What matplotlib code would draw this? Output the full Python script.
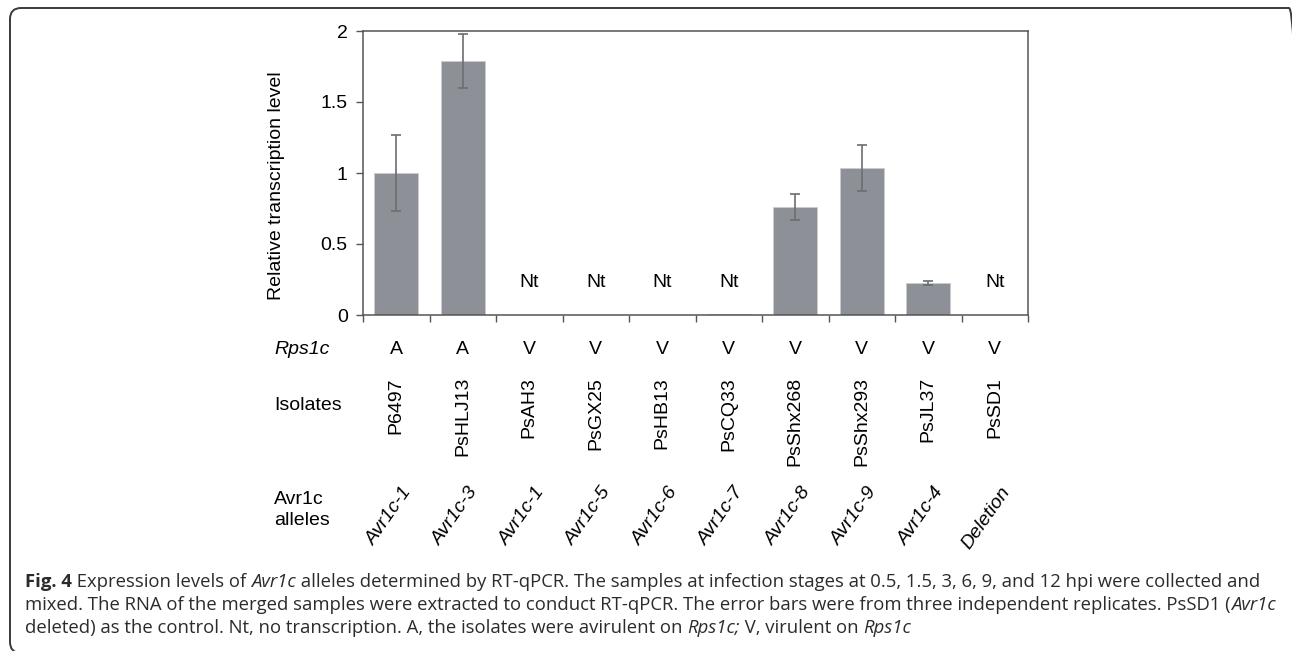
import matplotlib
matplotlib.use("Agg")
import matplotlib.pyplot as plt
import numpy as np
from matplotlib.transforms import blended_transform_factory
from matplotlib.patches import FancyBboxPatch

# ---- data ----
isolates = ['P6497', 'PsHLJ13', 'PsAH3', 'PsGX25', 'PsHB13', 'PsCQ33',
            'PsShx268', 'PsShx293', 'PsJL37', 'PsSD1']
rps1c = ['A', 'A', 'V', 'V', 'V', 'V', 'V', 'V', 'V', 'V']
alleles = ['Avr1c-1', 'Avr1c-3', 'Avr1c-1', 'Avr1c-5', 'Avr1c-6', 'Avr1c-7',
           'Avr1c-8', 'Avr1c-9', 'Avr1c-4', 'Deletion']
values = [1.0, 1.79, 0.0, 0.0, 0.0, 0.005, 0.76, 1.035, 0.225, 0.0]
errors = [0.27, 0.19, 0.0, 0.0, 0.0, 0.0, 0.09, 0.16, 0.012, 0.0]
no_transcription = [False, False, True, True, True, True, False, False, False, True]
yticks = [0, 0.5, 1, 1.5, 2]
ytick_labels = ['0', '0.5', '1', '1.5', '2']

# caption segments: (text, style)  style: 'r' regular, 'i' italic, 'b' bold
caption_lines = [
    [("Fig. 4", 'b'), (" Expression levels of ", 'r'), ("Avr1c", 'i'),
     (" alleles determined by RT-qPCR. The samples at infection stages at 0.5, 1.5, 3, 6, 9, and 12 hpi were collected and", 'r')],
    [("mixed. The RNA of the merged samples were extracted to conduct RT-qPCR. The error bars were from three independent replicates. PsSD1 (", 'r'),
     ("Avr1c", 'i')],
    [("deleted) as the control. Nt, no transcription. A, the isolates were avirulent on ", 'r'),
     ("Rps1c;", 'i'), (" V, virulent on ", 'r'), ("Rps1c", 'i')],
]

W, H = 1292, 651
plt.rcParams['font.family'] = ['Liberation Sans', 'DejaVu Sans']

fig = plt.figure(figsize=(W / 100, H / 100), dpi=100)

def fx(px):
    return px / W

def fy(py):
    return 1 - py / H

ax = fig.add_axes([fx(363), fy(315), fx(1028) - fx(363), fy(31) - fy(315)])

x = np.arange(len(isolates))
bar_color = '#8d9096'
ax.bar(x, values, width=0.66, color=bar_color, edgecolor='#c9cbce', linewidth=0.6, zorder=2)
idx = [i for i, e in enumerate(errors) if e > 0]
ax.errorbar([x[i] for i in idx], [values[i] for i in idx], yerr=[errors[i] for i in idx],
            fmt='none', ecolor='#6b6e72', elinewidth=1.2, capsize=3.5, capthick=1.2, zorder=3)

for i, flag in enumerate(no_transcription):
    if flag:
        ax.text(x[i], 0.232, 'Nt', ha='center', va='center', fontsize=14, color='black')

ax.set_xlim(-0.5, len(isolates) - 0.5)
ax.set_ylim(0, 2)
ax.set_yticks(yticks)
ax.set_yticklabels(ytick_labels, fontsize=14)
ax.set_xticks(np.arange(-0.5, len(isolates), 1.0))
ax.set_xticklabels([])
ax.tick_params(axis='both', direction='out', length=5, width=1.0, color='#555555', pad=6)
for s in ax.spines.values():
    s.set_color('#555555')
    s.set_linewidth(1.1)
ax.set_ylabel('Relative transcription level', fontsize=14)
ax.yaxis.set_label_coords(-0.118, 0.455)

trans = blended_transform_factory(ax.transData, fig.transFigure)

# Rps1c row
fig.text(fx(274), fy(349), 'Rps1c', fontsize=14, fontstyle='italic', ha='left', va='center')
for i, r in enumerate(rps1c):
    ax.text(x[i], fy(349), r, transform=trans, fontsize=14, ha='center', va='center', clip_on=False)

# Isolates row
fig.text(fx(274), fy(405), 'Isolates', fontsize=14, ha='left', va='center')
for i, name in enumerate(isolates):
    ax.text(x[i], fy(377), name, transform=trans, fontsize=14, rotation=90,
            ha='center', va='top', clip_on=False)

# Alleles row
fig.text(fx(274), fy(510), 'Avr1c\nalleles', fontsize=14, ha='left', va='center', linespacing=1.35)
for i, a in enumerate(alleles):
    ax.text(x[i] + 0.18, fy(489), a, transform=trans, fontsize=14, fontstyle='italic',
            rotation=55, rotation_mode='anchor', ha='right', va='center', clip_on=False)

# caption, drawn segment by segment
renderer = fig.canvas.get_renderer()
cap_size = 13.3
cap_family = ['Open Sans', 'DejaVu Sans']
cap_color = '#2b2b2b'
style_kw = {'r': dict(), 'i': dict(fontstyle='italic'), 'b': dict(fontweight='bold')}

def adv_width(s, kw):
    t1 = fig.text(0, 0, s + 'X', fontsize=cap_size, family=cap_family, **kw)
    t2 = fig.text(0, 0, 'X', fontsize=cap_size, family=cap_family, **kw)
    w = t1.get_window_extent(renderer).width - t2.get_window_extent(renderer).width
    t1.remove()
    t2.remove()
    return w

cap_y = [582, 605, 628]
for segs, yy in zip(caption_lines, cap_y):
    xpos = 25.0
    for s, st in segs:
        kw = style_kw[st]
        fig.text(fx(xpos), fy(yy), s, fontsize=cap_size, family=cap_family, color=cap_color,
                 ha='left', va='center', **kw)
        xpos += adv_width(s, kw)

# frame (rounded, partly off canvas)
frame = FancyBboxPatch((10, H - 653), 1290, 653 - 8,
                       boxstyle='round,pad=0,rounding_size=11',
                       transform=None, fill=False, edgecolor='#3a3a3a', linewidth=1.4)
fig.patches.append(frame)

fig.savefig('out.png', dpi=100)
